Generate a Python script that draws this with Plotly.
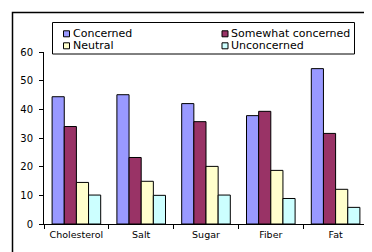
import plotly.graph_objects as go

categories = ["Cholesterol", "Salt", "Sugar", "Fiber", "Fat"]
concerned = [44.4, 45.1, 42.0, 37.8, 54.2]
somewhat_concerned = [34.0, 23.2, 35.7, 39.3, 31.6]
neutral = [14.5, 14.9, 20.1, 18.7, 12.1]
unconcerned = [10.1, 10.0, 10.1, 8.9, 5.8]

series = [
    ("Concerned", concerned, "#9999FF"),
    ("Somewhat concerned", somewhat_concerned, "#993366"),
    ("Neutral", neutral, "#FFFFCC"),
    ("Unconcerned", unconcerned, "#CCFFFF"),
]

W, H = 372, 252
L, R, T, B = 36, 12, 44, 36
pw, ph = W - L - R, H - T - B


def px(x):
    # pixel x -> paper coordinate
    return (x - L) / pw


def py(y):
    # pixel y (from top) -> paper coordinate
    return (H - B - y) / ph


font = "DejaVu Sans"

fig = go.Figure()
for name, vals, color in series:
    fig.add_trace(go.Bar(x=categories, y=vals, name=name, showlegend=False,
                         marker=dict(color=color, line=dict(color="black", width=1))))

# outer frame
shapes = [dict(type="rect", xref="paper", yref="paper",
               x0=px(4.5), x1=px(365.5), y0=py(247.5), y1=py(4.5),
               line=dict(color="black", width=1.5))]

# legend drawn by hand (two columns, Excel style)
shapes.append(dict(type="rect", xref="paper", yref="paper",
                   x0=px(44.5), x1=px(346.5), y0=py(46), y1=py(14.5),
                   line=dict(color="black", width=1), fillcolor="white"))
annotations = []
for i, (name, _, color) in enumerate(series):
    sx = 55.5 if i % 2 == 0 else 214
    cy = 25.8 if i < 2 else 37.8
    shapes.append(dict(type="rect", xref="paper", yref="paper",
                       x0=px(sx), x1=px(sx + 6), y0=py(cy + 3), y1=py(cy - 3),
                       line=dict(color="black", width=1), fillcolor=color))
    annotations.append(dict(text=name, xref="paper", yref="paper", x=px(sx + 8), y=py(cy),
                            xanchor="left", yanchor="middle", showarrow=False, borderpad=0,
                            font=dict(size=11, family=font, color="black")))

fig.update_layout(
    width=W, height=H,
    margin=dict(l=L, r=R, t=T, b=B, autoexpand=False),
    paper_bgcolor="white", plot_bgcolor="white",
    barmode="group", bargap=0.25, bargroupgap=0,
    font=dict(family=font, size=10, color="black"),
    showlegend=False,
    xaxis=dict(showline=True, linecolor="black", linewidth=1, ticks="outside",
               tickson="boundaries", ticklen=4, tickcolor="black", showgrid=False,
               tickfont=dict(size=9.5), tickangle=0, automargin=False,
               ticklabelstandoff=2),
    yaxis=dict(range=[0, 60], dtick=10, showline=True, linecolor="black", linewidth=1,
               ticks="outside", ticklen=4, tickcolor="black", showgrid=False,
               zeroline=False, tickfont=dict(size=10), automargin=False,
               ticklabelstandoff=4),
    shapes=shapes,
    annotations=annotations,
)

fig.write_html("out.html")
